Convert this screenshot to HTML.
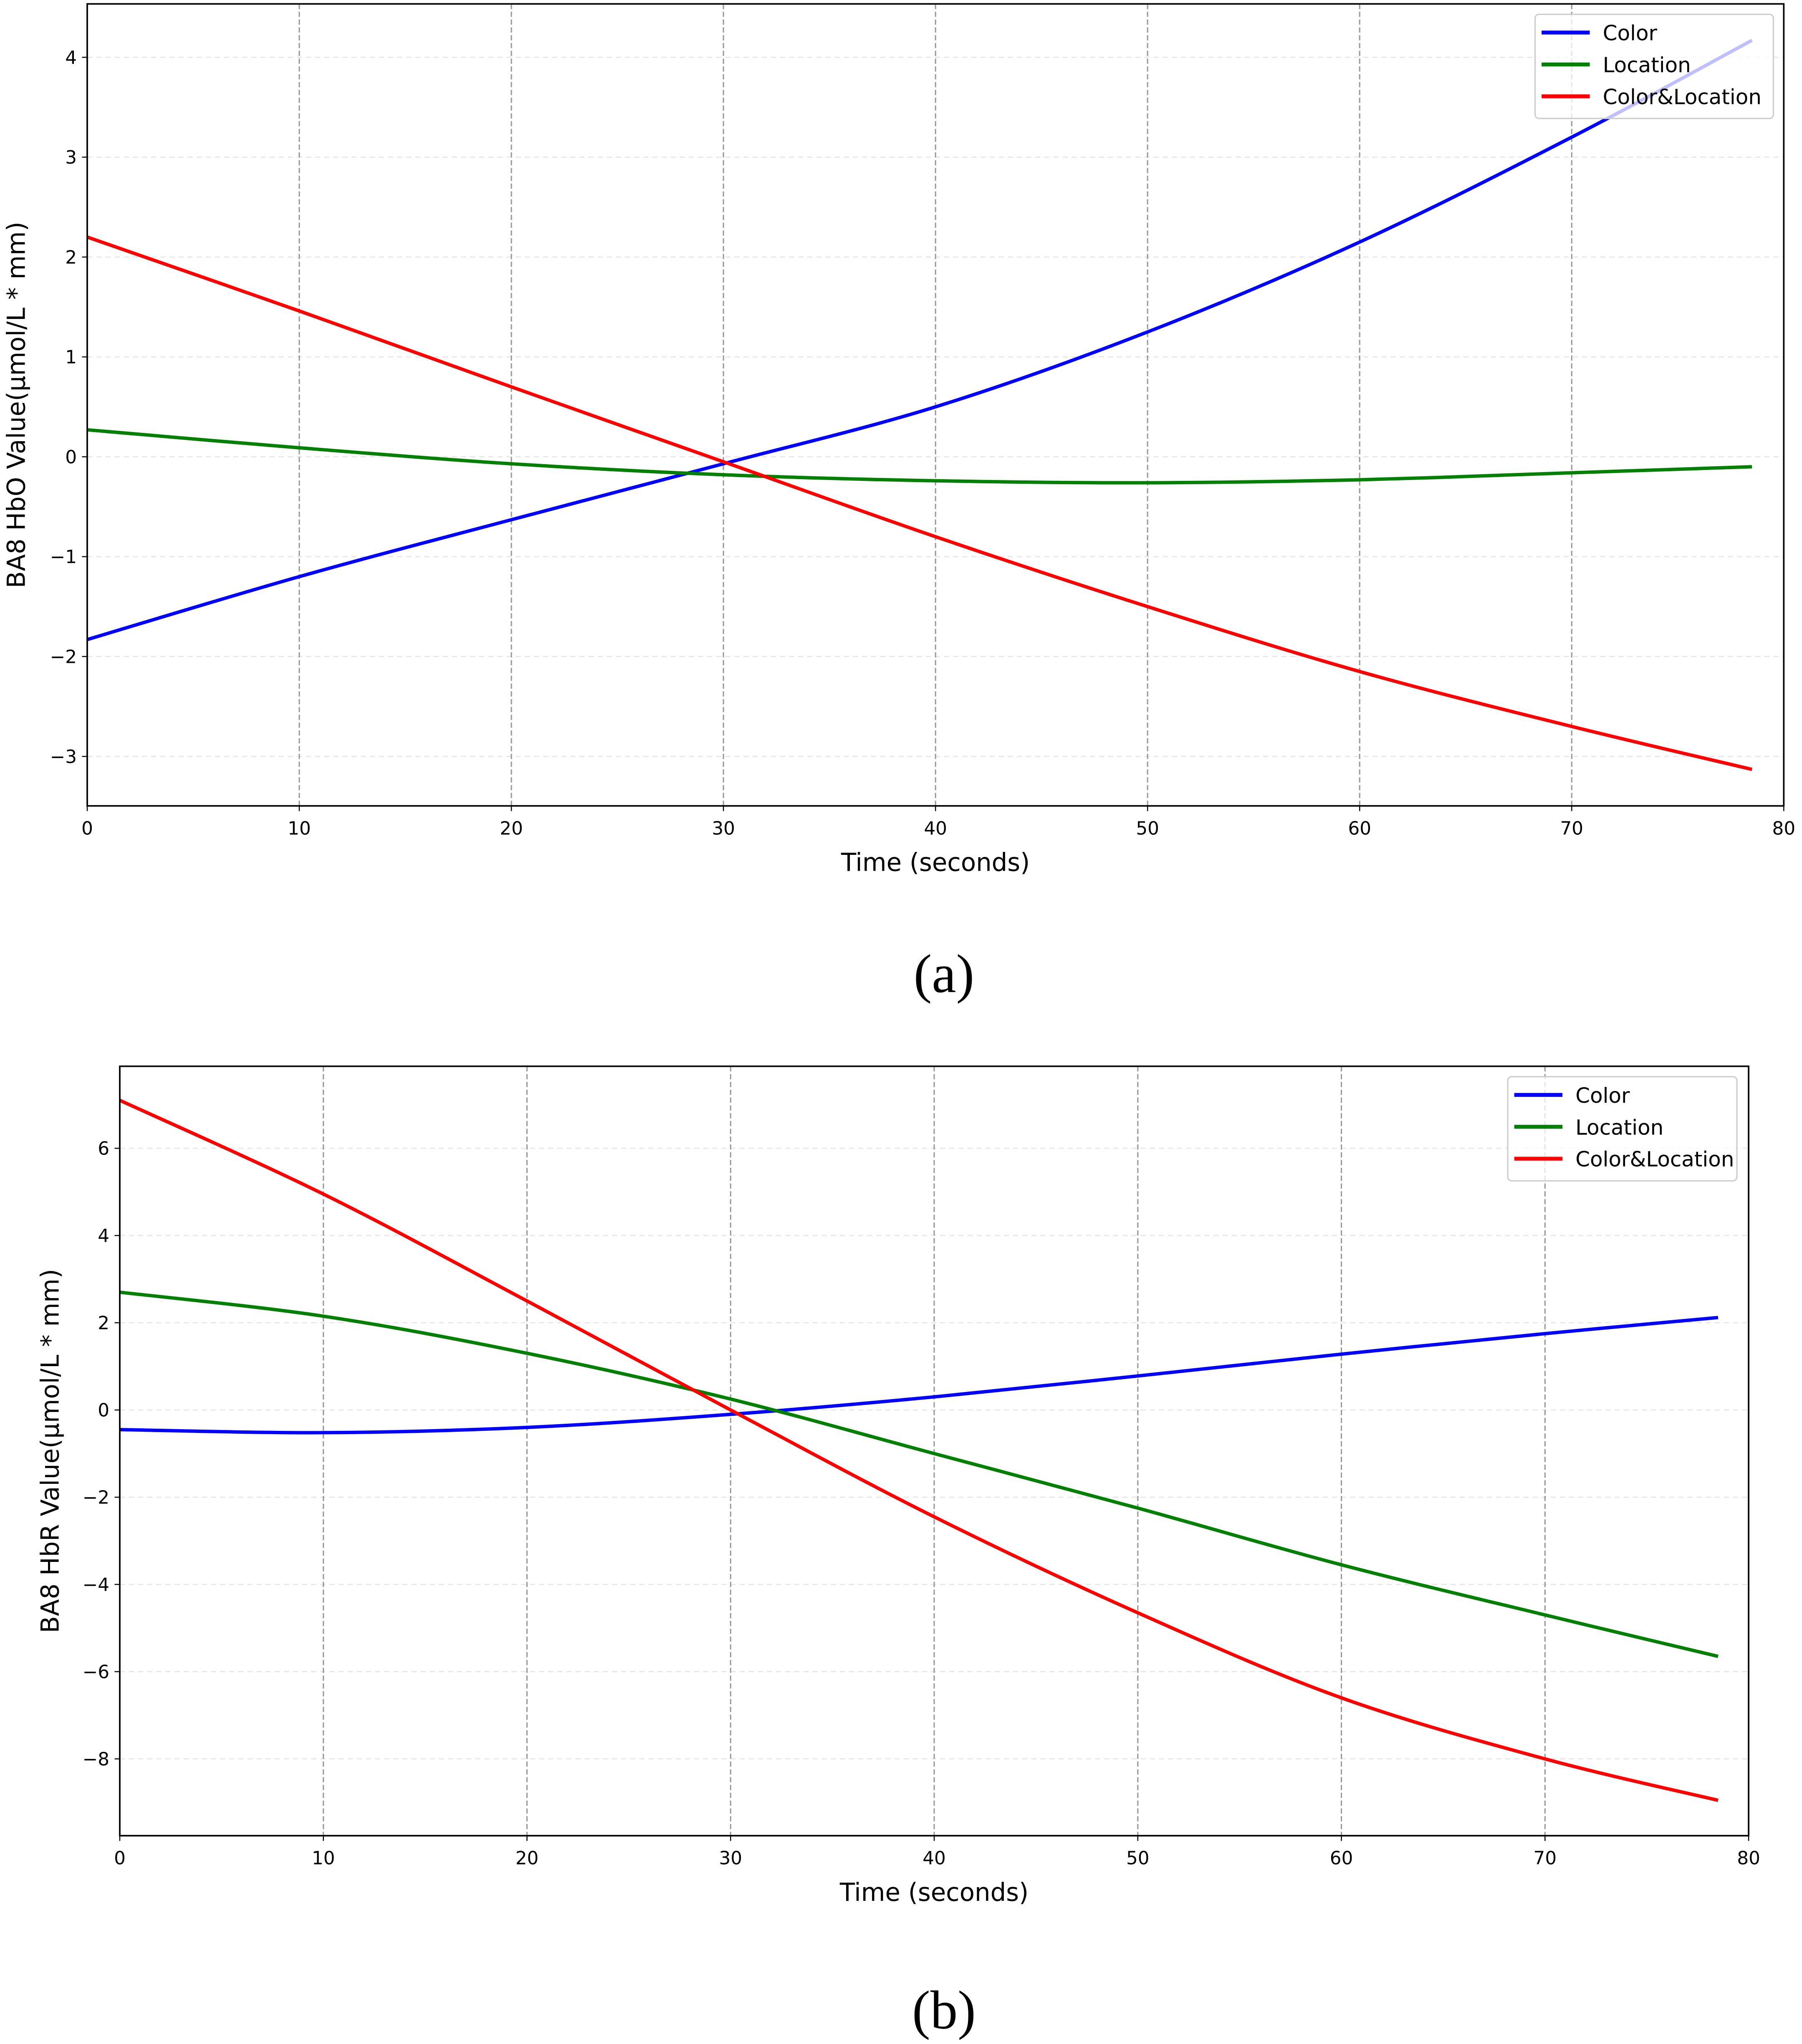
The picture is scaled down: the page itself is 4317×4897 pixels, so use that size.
<!DOCTYPE html>
<html><head><meta charset="utf-8"><style>
html,body{margin:0;padding:0;background:#fff;}
svg{display:block;}
text{font-family:"DejaVu Sans","Liberation Sans",sans-serif;fill:#000;}
</style></head><body>
<svg id="fig" width="4317" height="4897" viewBox="0 0 1384 1570" preserveAspectRatio="none" xmlns="http://www.w3.org/2000/svg">
</svg>
<script>
const timesA = [0,10,20,30,40,50,60,70,78.5];
const colorA = [-1.83,-1.2,-0.63,-0.07,0.5,1.25,2.15,3.2,4.17];
const locationA = [0.27,0.09,-0.07,-0.18,-0.24,-0.26,-0.23,-0.16,-0.1];
const colorLocA = [2.2,1.46,0.7,-0.05,-0.8,-1.5,-2.15,-2.7,-3.13];
const yTicksA = [-3,-2,-1,0,1,2,3,4];
const timesB = [0,10,20,30,40,50,60,70,78.5];
const colorB = [-0.45,-0.52,-0.4,-0.1,0.3,0.78,1.28,1.75,2.12];
const locationB = [2.7,2.15,1.3,0.25,-1.0,-2.25,-3.55,-4.7,-5.65];
const colorLocB = [7.1,4.95,2.5,0.0,-2.45,-4.65,-6.6,-8.0,-8.95];
const yTicksB = [-8,-6,-4,-2,0,2,4,6];
const xTicks = [0,10,20,30,40,50,60,70,80];
const seriesNames = ["Color","Location","Color&Location"];
const seriesColors = ["#0000ff","#008000","#ff0000"];

const NS="http://www.w3.org/2000/svg";
const svg=document.getElementById('fig');
function mk(tag,attrs,parent){const e=document.createElementNS(NS,tag);for(const k in attrs)e.setAttribute(k,attrs[k]);(parent||svg).appendChild(e);return e;}
function fmt(v){return v<0?'\u2212'+Math.abs(v):String(v);}
function spline(pts){let d='M'+pts[0][0]+','+pts[0][1];for(let i=0;i<pts.length-1;i++){const p0=pts[Math.max(0,i-1)],p1=pts[i],p2=pts[i+1],p3=pts[Math.min(pts.length-1,i+2)];const c1=[p1[0]+(p2[0]-p0[0])/6,p1[1]+(p2[1]-p0[1])/6];const c2=[p2[0]-(p3[0]-p1[0])/6,p2[1]-(p3[1]-p1[1])/6];d+=` C${c1[0]},${c1[1]} ${c2[0]},${c2[1]} ${p2[0]},${p2[1]}`;}return d;}

function chart(cfg){
  const g=mk('g',{});
  
  
  const X=v=>cfg.L+(v-0)/80*(cfg.R-cfg.L);
  const Y=v=>cfg.y0+(v-cfg.v0)*(cfg.y1-cfg.y0)/(cfg.v1-cfg.v0);
  cfg.yTicks.forEach(t=>{
    const l=mk('line',{x1:cfg.L,x2:cfg.R,y1:Y(t),y2:Y(t),stroke:'#e4e4e4','stroke-width':0.8,'stroke-dasharray':'4,3'},g);
    
    
    mk('line',{x1:cfg.L-4,x2:cfg.L,y1:Y(t),y2:Y(t),stroke:'#000','stroke-width':0.8},g);
    const tx=mk('text',{x:cfg.L-8,y:Y(t)+5,'text-anchor':'end','font-size':14},g);
    tx.textContent=fmt(t);
    
    
  });
  xTicks.forEach(t=>{
    if(t>0&&t<80){const l=mk('line',{x1:X(t),x2:X(t),y1:cfg.T,y2:cfg.B,stroke:'#999','stroke-width':1,'stroke-dasharray':'4,2'},g);
    
    }
    mk('line',{x1:X(t),x2:X(t),y1:cfg.B,y2:cfg.B+4,stroke:'#000','stroke-width':0.8},g);
    const tx=mk('text',{x:X(t),y:cfg.B+22,'text-anchor':'middle','font-size':14},g);
    tx.textContent=t;
    
    
  });
  cfg.series.forEach((s,i)=>{
    const p=mk('path',{d:spline(cfg.times.map((t,j)=>[X(t),Y(s[j])])),fill:'none',stroke:seriesColors[i],'stroke-width':2.6},g);
    
    
  });
  const fr=mk('rect',{x:cfg.L,y:cfg.T,width:cfg.R-cfg.L,height:cfg.B-cfg.T,fill:'none',stroke:'#000','stroke-width':1.2},g);
  
  
  const xl=mk('text',{x:(cfg.L+cfg.R)/2,y:cfg.B+50,'text-anchor':'middle','font-size':19},g);
  xl.textContent='Time (seconds)';
  
  
  const yl=mk('text',{x:0,y:0,'text-anchor':'middle','font-size':19,transform:`translate(${cfg.ylx},${(cfg.T+cfg.B)/2}) rotate(-90)`},g);
  yl.textContent=cfg.ylabel;
  
  
  const lg=mk('g',{},g);
  
  
  mk('rect',{x:cfg.lgx,y:cfg.T+8,width:cfg.lgw,height:80,rx:3,fill:'rgba(255,255,255,0.75)',stroke:'#ccc','stroke-width':1},lg);
  seriesNames.forEach((n,i)=>{
    const yy=cfg.T+22+i*24.5;
    mk('line',{x1:cfg.lgx+5,x2:cfg.lgx+42,y1:yy,y2:yy,stroke:seriesColors[i],'stroke-width':3},lg);
    const t=mk('text',{x:cfg.lgx+52,y:yy+6,'font-size':16},lg);
    t.textContent=n;
    
    
  });
  const cap=mk('text',{x:725,y:cfg.capY,'text-anchor':'middle','font-size':42,style:'font-family:"Liberation Serif",serif'},g);
  cap.textContent=cfg.cap;
  
  
}
chart({name:'chart-a-hbo',L:67,R:1370,T:3,B:619,y0:44,v0:4,y1:581,v1:-3,yTicks:yTicksA,times:timesA,series:[colorA,locationA,colorLocA],ylabel:'BA8 HbO Value(\u03bcmol/L * mm)',ylx:19,lgx:1179,lgw:183,cap:'(a)',capY:762});
chart({name:'chart-b-hbr',L:92,R:1343,T:819,B:1410,y0:882,v0:6,y1:1351,v1:-8,yTicks:yTicksB,times:timesB,series:[colorB,locationB,colorLocB],ylabel:'BA8 HbR Value(\u03bcmol/L * mm)',ylx:45,lgx:1158,lgw:176,cap:'(b)',capY:1558});
</script>
</body></html>
